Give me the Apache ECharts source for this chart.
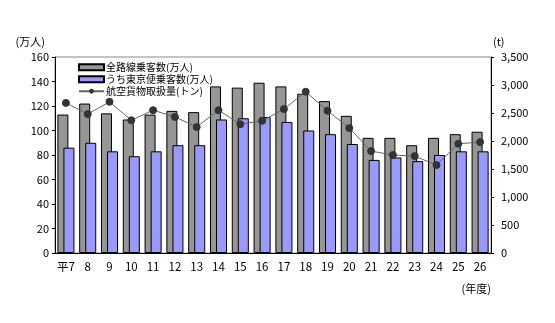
<!DOCTYPE html>
<html>
<head>
<meta charset="utf-8">
<script src="https://cdn.jsdelivr.net/npm/echarts@6/dist/echarts.min.js"></script>
<style>
  html, body { margin: 0; padding: 0; background: #fff; }
  #chart { width: 555px; height: 323px; }
</style>
</head>
<body>
<div id="chart"></div>
<script>
// 年度（平成）
const years = ['平7', '8', '9', '10', '11', '12', '13', '14', '15', '16',
               '17', '18', '19', '20', '21', '22', '23', '24', '25', '26'];
// 全路線乗客数（万人）
const allRoutes = [113, 122, 114, 109, 113, 116, 115, 136, 135, 139,
                   136, 130, 124, 112, 94, 94, 88, 94, 97, 99];
// うち東京便乗客数（万人）
const tokyoRoutes = [86, 90, 83, 79, 83, 88, 88, 109, 110, 111,
                     107, 100, 97, 89, 76, 78, 75, 80, 83, 83];
// 航空貨物取扱量（トン）
const cargo = [2680, 2480, 2700, 2370, 2550, 2430, 2250, 2550, 2300, 2360,
               2570, 2880, 2540, 2230, 1820, 1750, 1730, 1570, 1950, 1980];

const leftTicks = { min: 0, max: 160, interval: 20 };
const rightTicks = { min: 0, max: 3500, interval: 500 };

const font = '"Noto Sans CJK JP", "Noto Sans", sans-serif';
const chart = echarts.init(document.getElementById('chart'));

chart.setOption({
  animation: false,
  textStyle: { fontFamily: font, color: '#000' },
  grid: {
    left: 55, right: 64, top: 57, bottom: 70,
    show: true, borderColor: '#888', borderWidth: 1
  },
  legend: {
    orient: 'vertical', left: 73, top: 57,
    itemWidth: 25, itemHeight: 6, itemGap: 1.5,
    textStyle: { fontFamily: font, fontSize: 10, lineHeight: 10.5, color: '#000', padding: [0, 0, 0, -3] },
    data: [
      { name: '全路線乗客数(万人)', icon: 'rect' },
      { name: 'うち東京便乗客数(万人)', icon: 'rect' },
      { name: '航空貨物取扱量(トン)' }
    ]
  },
  xAxis: {
    type: 'category',
    data: years,
    axisLine: { lineStyle: { color: '#000', width: 1 } },
    axisTick: { inside: true, length: 3, lineStyle: { color: '#000' } },
    axisLabel: { interval: 0, fontSize: 11.5, color: '#000', margin: 8, fontFamily: font },
    name: '(年度)', nameLocation: 'end',
    nameGap: 0,
    nameTextStyle: { fontSize: 11, color: '#000', align: 'right', verticalAlign: 'top', padding: [30, 0, 0, 0] }
  },
  yAxis: [
    {
      type: 'value', min: leftTicks.min, max: leftTicks.max, interval: leftTicks.interval,
      axisLine: { show: true, lineStyle: { color: '#000' } },
      axisTick: { show: true, length: 3, lineStyle: { color: '#000' } },
      splitLine: { show: false },
      axisLabel: { fontSize: 11, color: '#000', margin: 6 },
      name: '(万人)', nameGap: 10,
      nameTextStyle: { fontSize: 11, color: '#000', align: 'right', padding: [0, 10, 0, 0] }
    },
    {
      type: 'value', min: rightTicks.min, max: rightTicks.max, interval: rightTicks.interval,
      axisLine: { show: true, lineStyle: { color: '#000' } },
      axisTick: { show: true, length: 3, lineStyle: { color: '#000' } },
      splitLine: { show: false },
      axisLabel: {
        fontSize: 11, color: '#000', margin: 10,
        formatter: v => v.toLocaleString('en-US')
      },
      name: '(t)', nameGap: 10,
      nameTextStyle: { fontSize: 11, color: '#000', align: 'left', padding: [0, 0, 0, 2] }
    }
  ],
  series: [
    {
      name: '全路線乗客数(万人)', type: 'bar', yAxisIndex: 0,
      data: allRoutes, barWidth: 11, barGap: '-45%',
      itemStyle: { color: '#969696', borderColor: '#000', borderWidth: 1 }
    },
    {
      name: 'うち東京便乗客数(万人)', type: 'bar', yAxisIndex: 0,
      data: tokyoRoutes, barWidth: 11,
      itemStyle: { color: '#9999ff', borderColor: '#000', borderWidth: 1 }
    },
    {
      name: '航空貨物取扱量(トン)', type: 'line', yAxisIndex: 1,
      data: cargo, symbol: 'circle', symbolSize: 7,
      lineStyle: { color: '#666', width: 1 },
      itemStyle: { color: '#333', borderColor: '#333' }
    }
  ]
});
</script>
</body>
</html>
